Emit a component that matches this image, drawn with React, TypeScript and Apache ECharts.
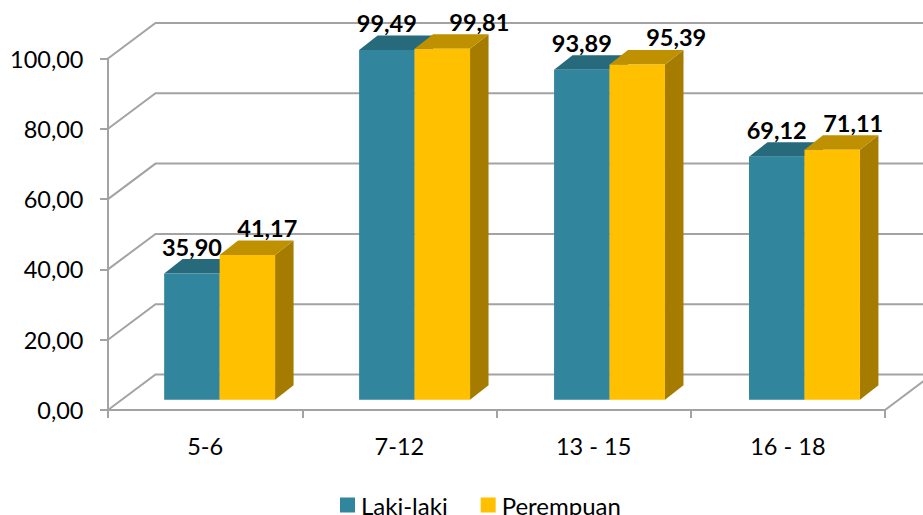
import React, { useEffect, useRef } from "react";
import * as echarts from "echarts";

const categories = ["5-6", "7-12", "13 - 15", "16 - 18"];
const lakiLaki = [35.9, 99.49, 93.89, 69.12];
const perempuan = [41.17, 99.81, 95.39, 71.11];
const yTicks = [0, 20, 40, 60, 80, 100];
const lakiLabels = ["35,90", "99,49", "93,89", "69,12"];
const perempuanLabels = ["41,17", "99,81", "95,39", "71,11"];
// horizontal nudge of the hand-placed labels of the second series
const perempuanLabelNudge = [20, 37, 39, 21];

const WALL_DX = 47.5;
const WALL_DY = -35.5;
const BAR_DX = 14.5;
const BAR_SPREAD = 0.7;
const BAR_DY = -10.3;
const DEPTH_DX = 18.5;
const DEPTH_DY = -14.5;
const BAR_FRACTION = 0.2855;
const LINE = "#A3A3A3";
const FONT = "Lato";

function barSeries(
  name: string,
  values: number[],
  labels: string[],
  side: number,
  nudge: number[] | null,
  front: string,
  top: string,
  right: string
) {
  return {
    name,
    type: "custom",
    coordinateSystem: "cartesian2d",
    itemStyle: { color: front },
    z: side < 0 ? 3 : 4,
    data: values.map((v, i) => [i, v]),
    renderItem: (params: any, api: any) => {
      const i = api.value(0);
      const v = api.value(1);
      const band = api.size([1, 0])[0];
      const w = band * BAR_FRACTION;
      const [cx, ty] = api.coord([i, v]);
      const [, by] = api.coord([i, 0]);
      const x0 = cx + BAR_DX + i * BAR_SPREAD + (side < 0 ? -w : 0);
      const x1 = x0 + w;
      const y0 = ty + BAR_DY;
      const y1 = by + BAR_DY;
      return {
        type: "group",
        children: [
          {
            type: "polygon",
            shape: { points: [[x1, y0], [x1 + DEPTH_DX, y0 + DEPTH_DY], [x1 + DEPTH_DX, y1 + DEPTH_DY], [x1, y1]] },
            style: { fill: right },
          },
          {
            type: "polygon",
            shape: { points: [[x0, y0], [x0 + DEPTH_DX, y0 + DEPTH_DY], [x1 + DEPTH_DX, y0 + DEPTH_DY], [x1, y0]] },
            style: { fill: top },
          },
          {
            type: "rect",
            shape: { x: x0, y: y0, width: w, height: y1 - y0 },
            style: { fill: front },
          },
          {
            type: "text",
            z2: 10,
            style: {
              x: (x0 + x1) / 2 + (nudge ? nudge[i] : 0),
              y: y0 - 27,
              text: labels[i],
              fill: "#000",
              font: `bold 23.5px ${FONT}`,
              align: "center",
              verticalAlign: "middle",
            },
          },
        ],
      };
    },
  };
}

export default function App() {
  const ref = useRef<HTMLDivElement>(null);
  useEffect(() => {
    if (!ref.current) return;
    const chart = echarts.init(ref.current, null, { renderer: "svg" });
    chart.setOption({
      animation: false,
      backgroundColor: "#fff",
      grid: { left: 108, top: 58.5, width: 777, height: 351.5, containLabel: false },
      legend: {
        left: 340,
        top: 493,
        padding: 0,
        icon: "rect",
        itemWidth: 15,
        itemHeight: 15,
        itemGap: 33,
        data: ["Laki-laki", "Perempuan"],
        textStyle: { fontFamily: FONT, fontSize: 24, color: "#000", padding: [0, 0, 6, 1] },
      },
      xAxis: {
        type: "category",
        data: categories,
        axisLine: { lineStyle: { color: LINE, width: 2 } },
        axisTick: { show: true, length: 8, lineStyle: { color: LINE, width: 2 } },
        axisLabel: { fontFamily: FONT, fontSize: 23.5, color: "#000", margin: 24 },
      },
      yAxis: {
        type: "value",
        min: 0,
        max: 100,
        interval: 20,
        axisLine: { show: true, lineStyle: { color: LINE, width: 2 } },
        axisTick: { show: true, length: 8, lineStyle: { color: LINE, width: 2 } },
        splitLine: { show: false },
        axisLabel: {
          fontFamily: FONT,
          fontSize: 23.5,
          color: "#000",
          margin: 24.5,
          formatter: (v: number) => v.toFixed(2).replace(".", ","),
        },
      },
      series: [
        {
          name: "walls",
          type: "custom",
          coordinateSystem: "cartesian2d",
          z: 1,
          silent: true,
          data: yTicks.map((t) => [0, t]),
          renderItem: (params: any, api: any) => {
            const t = api.value(1);
            const [, y] = api.coord([0, t]);
            const left = params.coordSys.x;
            const right = left + params.coordSys.width;
            const style = { stroke: LINE, lineWidth: 2, fill: "none" };
            const children: any[] = [
              {
                type: "polyline",
                shape: { points: [[left, y], [left + WALL_DX, y + WALL_DY], [right + WALL_DX, y + WALL_DY]] },
                style,
              },
            ];
            if (t === 0) {
              children.push({
                type: "line",
                shape: { x1: right, y1: y, x2: right + WALL_DX, y2: y + WALL_DY },
                style,
              });
            }
            return { type: "group", children };
          },
        },
        barSeries("Laki-laki", lakiLaki, lakiLabels, -1, null, "#31859C", "#266A7C", "#215968"),
        barSeries("Perempuan", perempuan, perempuanLabels, 1, perempuanLabelNudge, "#FFC000", "#BF9000", "#A67C00"),
      ],
    });
    return () => chart.dispose();
  }, []);
  return <div ref={ref} style={{ position: "absolute", left: 0, top: 0, width: 923, height: 515 }} />;
}
